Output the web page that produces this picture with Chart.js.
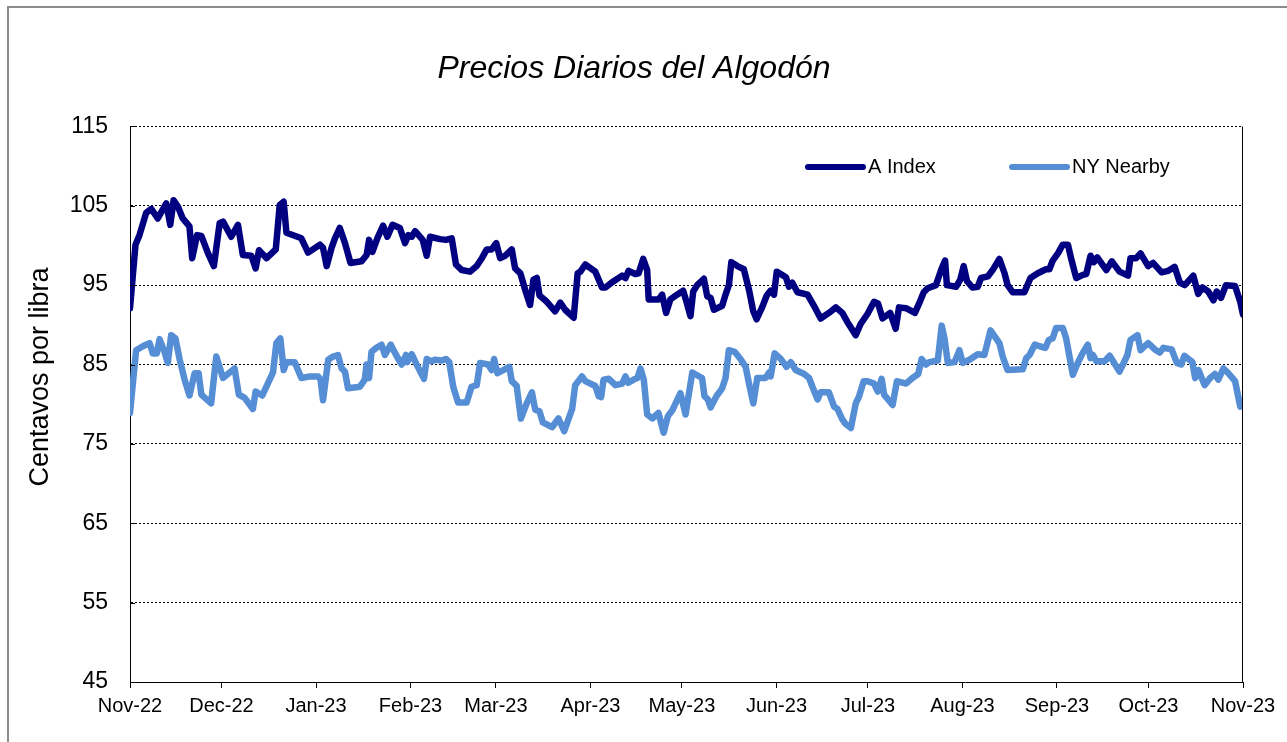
<!DOCTYPE html>
<html lang="es">
<head>
<meta charset="utf-8">
<title>Precios Diarios del Algodón</title>
<script src="https://cdn.jsdelivr.net/npm/chart.js@4.4.1/dist/chart.umd.min.js"></script>
<style>
  html, body { margin: 0; padding: 0; background: #fff; }
  #wrap { position: relative; width: 1287px; height: 742px; overflow: hidden; }
  #marco { position: absolute; left: 7px; top: 6px; width: 1320px; height: 780px;
           border-left: 2px solid #8c8c8c; border-top: 2px solid #8c8c8c; }
  #grafica { position: absolute; left: 0; top: 0; }
</style>
</head>
<body>
<div id="wrap">
  <div id="marco"></div>
  <canvas id="grafica" width="1287" height="742"></canvas>
</div>
<script>
'use strict';

// Eje X: días transcurridos desde el 1-nov-2022
const DIAS_MES   = [0, 30, 61, 92, 120, 151, 181, 212, 242, 273, 304, 334, 365];
const ETIQ_MES   = ['Nov-22', 'Dec-22', 'Jan-23', 'Feb-23', 'Mar-23', 'Apr-23', 'May-23',
                    'Jun-23', 'Jul-23', 'Aug-23', 'Sep-23', 'Oct-23', 'Nov-23'];
const TICKS_Y    = [45, 55, 65, 75, 85, 95, 105, 115];
const TITULO_Y   = 'Centavos por libra';

// A Index (centavos por libra)
const A_DIAS = [
  0, 1.8, 3.1, 5.3, 7, 9.1, 11.9, 13.2, 14.3, 15.7, 17.3, 19.5, 20.4, 22, 23.4, 25.6, 27.5,
  29.4, 30.5, 33.2, 35.4, 37, 39.8, 41.2, 42.3, 44.8, 47.8, 49.1, 50.4, 51.3, 56.2, 58.4,
  62.3, 63.3, 64.5, 66.1, 67.2, 68.8, 70.5, 72.3, 75.9, 77.6, 78.4, 79.5, 81.1, 83, 84.4,
  86.1, 88.5, 90.2, 91.3, 92.4, 93.5, 96, 97.3, 98.4, 101.7, 103.6, 105.5, 106.9, 108.8,
  111.5, 113.7, 115.4, 117, 118.6, 120.1, 121.4, 123, 125.2, 126.3, 128, 129.6, 131.2,
  132.3, 133.4, 134.3, 136.7, 139.4, 141.1, 142.7, 145.5, 146.8, 147.7, 149.3, 152.6,
  154.8, 155.9, 158.6, 161.4, 162.5, 163.5, 165.7, 166.8, 168.3, 169.6, 170.1, 173.4,
  174.5, 175.8, 177.2, 179.4, 181.4, 182.5, 183.8, 184.7, 186, 188.2, 189.3, 190.4, 191.5,
  194.2, 195.3, 196.4, 197.2, 199.2, 201.3, 203, 204.4, 205.5, 207.4, 208.8, 210.1, 211.2,
  212.1, 215.1, 216.1, 217.2, 218.9, 222.2, 224.3, 226.5, 229.2, 231.5, 233.6, 235.2, 238,
  239.6, 241.9, 244, 245.3, 246.8, 249.3, 251.1, 252.2, 254.5, 257.4, 258.8, 260.3, 261.6,
  264.3, 266, 267.3, 267.9, 270.9, 272.3, 273.4, 274.5, 276.3, 278, 279.1, 281.3, 282.9,
  285.1, 286.8, 287.8, 289.5, 293.3, 295.3, 297.7, 300.4, 301.5, 302.6, 304.3, 305.9,
  307.6, 308.6, 310.3, 312.5, 313.6, 315, 316.1, 317.2, 320.2, 322, 324.5, 327.3, 328.1,
  330, 331.4, 333.9, 335.5, 338.3, 340.5, 342.6, 344.3, 345.9, 348.7, 350.3, 351.7, 353.6,
  355.3, 356.4, 357.8, 359.4, 362.4, 364.1, 365
];
const A_VALORES = [
  92.1, 100.1, 101.3, 104.1, 104.6, 103.4, 105.3, 102.6, 105.7, 104.9, 103.4, 102.4, 98.4,
  101.3, 101.2, 99.0, 97.4, 102.8, 103.0, 101.1, 102.6, 98.8, 98.7, 97.1, 99.4, 98.4, 99.5,
  105.1, 105.5, 101.6, 100.9, 99.1, 100.1, 99.7, 97.4, 99.7, 100.9, 102.2, 100.3, 97.8,
  98.0, 98.8, 100.7, 99.2, 100.9, 102.5, 101.1, 102.6, 102.2, 100.3, 101.3, 101.1, 101.8,
  100.7, 98.7, 101.1, 100.8, 100.7, 100.9, 97.6, 96.9, 96.7, 97.4, 98.4, 99.5, 99.5, 100.3,
  98.4, 98.7, 99.5, 97.1, 96.5, 94.4, 92.5, 95.7, 95.9, 93.7, 92.9, 91.7, 92.8, 91.9, 90.9,
  96.5, 96.7, 97.6, 96.7, 94.7, 94.7, 95.5, 96.2, 95.9, 96.8, 96.4, 96.5, 98.3, 96.9, 93.2,
  93.2, 93.8, 91.5, 93.2, 93.8, 94.3, 92.9, 91.1, 94.2, 95.0, 95.8, 93.6, 93.4, 91.9, 92.4,
  93.8, 95.0, 97.9, 97.4, 97.0, 94.4, 91.7, 90.7, 92.3, 93.7, 94.3, 93.8, 96.7, 96.0, 94.8,
  95.3, 94.1, 93.8, 92.4, 90.8, 91.5, 92.2, 91.5, 90.4, 88.7, 90.1, 91.4, 92.9, 92.7, 90.8,
  91.5, 89.5, 92.2, 92.1, 91.5, 92.7, 94.1, 94.6, 95.0, 96.9, 98.1, 95.0, 94.8, 95.7, 97.4,
  95.5, 94.7, 94.8, 95.9, 96.1, 96.9, 98.3, 96.5, 95.0, 94.1, 94.1, 95.9, 96.5, 97.0, 97.0,
  98.1, 99.0, 100.1, 100.1, 98.4, 95.9, 96.3, 96.4, 98.7, 97.9, 98.5, 96.9, 98.0, 96.7,
  96.2, 98.4, 98.4, 99.0, 97.4, 97.8, 96.6, 96.8, 97.3, 95.3, 95.0, 96.2, 93.9, 94.7, 94.2,
  93.1, 94.2, 93.4, 95.0, 94.9, 92.9, 91.3
];

// NY Nearby (centavos por libra)
const NY_DIAS = [
  0, 2, 4.2, 6.4, 7.5, 8.8, 9.7, 11.3, 12.4, 13.5, 14.9, 16.3, 17.9, 19.5, 21.2, 22.5, 23.4,
  26.6, 28.3, 30.5, 34.3, 35.7, 37.6, 40.3, 41.2, 43.4, 46.9, 48, 49.3, 50.4, 51.3, 54,
  56.2, 59, 61.7, 62.5, 63.3, 65, 66.6, 68.2, 69.4, 70.5, 71.5, 75.4, 77, 77.6, 78.4, 79.2,
  80.8, 82.5, 83.6, 85.5, 87.4, 89.1, 90.5, 90.9, 92.4, 94, 96.4, 97.3, 98.9, 100, 102.2,
  103.6, 104.7, 106, 107.6, 110.4, 112, 113.7, 114.8, 117.5, 118.6, 119.4, 120.5, 122.4,
  124.4, 125.2, 126.8, 128.2, 130.1, 131.8, 132.9, 134.3, 135.4, 138.4, 140.5, 142.4, 145,
  146, 148.2, 149.3, 152.6, 153.7, 154.5, 155.3, 157, 159.2, 161.4, 162.5, 163.4, 165.2,
  166.4, 167.4, 168.5, 169.6, 171.3, 173.3, 175, 176.4, 177.8, 180.5, 182.2, 184.4, 187.6,
  188.4, 189.5, 190.4, 192.3, 194.2, 195.3, 196.4, 198.3, 200.2, 201.9, 203, 204.4, 205.7,
  208.4, 209.6, 210.1, 211.4, 213.4, 215.3, 216.7, 218.3, 221.1, 222.7, 223.8, 225.5,
  226.5, 229.2, 230.9, 232, 233.6, 234.7, 236.4, 238, 239.1, 240.6, 241.9, 244, 245.2,
  246.5, 247.3, 250.1, 251.5, 254.5, 256.6, 258.5, 259.6, 261, 262.1, 264.9, 266.2, 267.1,
  268.2, 270.4, 272, 273.1, 275.3, 278, 280.2, 282.2, 285.1, 286.2, 287.8, 292.8, 293.9,
  295, 296.7, 298.3, 300.2, 301.3, 302.6, 303.7, 305.9, 307, 308.1, 309.2, 310.8, 312.5,
  314.1, 315, 315.8, 316.9, 319.6, 321.3, 324.5, 327.1, 328.1, 330.4, 331.4, 333.9, 336.1,
  337.7, 338.9, 341.6, 343.3, 344.7, 345.8, 348.4, 349.3, 350.4, 352.4, 354.2, 355.8,
  356.9, 358.6, 360.2, 362.4, 364.1, 365
];
const NY_VALORES = [
  78.9, 86.8, 87.3, 87.7, 86.4, 86.4, 88.2, 86.6, 85.2, 88.7, 88.3, 85.6, 83.1, 81.1, 83.9,
  83.9, 81.2, 80.1, 86.0, 83.3, 84.5, 81.2, 80.8, 79.4, 81.6, 81.1, 84.0, 87.7, 88.3, 84.3,
  85.3, 85.3, 83.3, 83.5, 83.5, 83.1, 80.5, 85.6, 86.0, 86.2, 84.5, 84.1, 82.0, 82.2, 83.1,
  85.0, 83.3, 86.6, 87.1, 87.5, 86.2, 87.5, 86.1, 85.0, 86.2, 85.3, 86.3, 85.0, 83.2, 85.7,
  85.4, 85.6, 85.5, 85.7, 85.3, 82.2, 80.2, 80.2, 82.2, 82.4, 85.2, 85.0, 84.3, 85.7, 83.9,
  84.3, 84.7, 82.9, 82.3, 78.2, 80.1, 81.5, 79.3, 79.1, 77.7, 77.1, 78.2, 76.6, 79.4, 82.4,
  83.5, 82.9, 82.3, 81.0, 80.9, 83.1, 83.2, 82.4, 82.6, 83.5, 82.7, 83.1, 83.3, 84.5, 83.1,
  78.7, 78.2, 78.9, 76.4, 78.5, 79.2, 81.4, 78.7, 84.0, 83.3, 81.0, 80.6, 79.6, 81.0, 82.0,
  83.3, 86.8, 86.6, 85.7, 84.7, 82.6, 80.1, 83.3, 83.3, 84.0, 83.5, 86.4, 85.7, 84.7, 85.3,
  84.3, 83.8, 83.3, 82.2, 80.6, 81.5, 81.5, 79.7, 79.4, 78.1, 77.5, 77.0, 80.1, 81.0, 82.9,
  82.9, 82.6, 81.6, 83.2, 81.2, 79.9, 82.9, 82.6, 83.3, 83.8, 85.7, 85.0, 85.3, 85.5, 89.9,
  88.3, 85.2, 85.3, 86.8, 85.2, 85.6, 86.3, 86.2, 89.3, 87.7, 86.0, 84.3, 84.4, 85.8, 86.2,
  87.5, 87.3, 87.1, 88.1, 88.3, 89.6, 89.6, 88.3, 86.0, 83.7, 85.2, 86.5, 87.5, 85.8, 86.2,
  85.4, 85.4, 86.1, 84.1, 86.2, 88.1, 88.7, 86.8, 87.7, 86.9, 86.5, 87.1, 86.9, 85.2, 85.0,
  86.1, 85.3, 83.3, 84.3, 82.4, 83.3, 83.8, 83.1, 84.5, 83.9, 82.9, 79.7, 79.9
];

const FUENTE = "'Liberation Sans', Arial, sans-serif";

function puntos(dias, valores) {
  return dias.map((d, i) => ({ x: d, y: valores[i] }));
}

// título del eje Y, leyenda dentro del área de trazado, borde derecho y marcas interiores
const extrasPlugin = {
  id: 'extras',
  afterDraw(chart) {
    const { ctx, chartArea: a, scales } = chart;
    ctx.save();
    ctx.strokeStyle = '#000';
    ctx.lineWidth = 1;
    ctx.beginPath();
    ctx.moveTo(Math.round(a.right) - 0.5, a.top);
    ctx.lineTo(Math.round(a.right) - 0.5, a.bottom);
    TICKS_Y.forEach(v => {
      const py = Math.round(scales.y.getPixelForValue(v)) + 0.5;
      ctx.moveTo(a.left, py);
      ctx.lineTo(a.left + 5, py);
    });
    ctx.stroke();

    // título vertical
    ctx.save();
    ctx.translate(41, 377);
    ctx.rotate(-Math.PI / 2);
    ctx.fillStyle = '#000';
    ctx.font = '27px ' + FUENTE;
    ctx.textAlign = 'center';
    ctx.textBaseline = 'middle';
    ctx.fillText(TITULO_Y, 0, 0);
    ctx.restore();

    const pos = [{ x: 808, y: 167 }, { x: 1012, y: 167 }];
    chart.data.datasets.forEach((ds, i) => {
      const p = pos[i];
      ctx.strokeStyle = ds.borderColor;
      ctx.lineWidth = 6;
      ctx.lineCap = 'round';
      ctx.beginPath();
      ctx.moveTo(p.x, p.y);
      ctx.lineTo(p.x + 55, p.y);
      ctx.stroke();
      ctx.fillStyle = '#000';
      ctx.font = '20px ' + FUENTE;
      ctx.textBaseline = 'middle';
      ctx.textAlign = 'left';
      ctx.fillText(ds.label, p.x + 60, p.y);
    });
    ctx.restore();
  }
};

new Chart(document.getElementById('grafica'), {
  type: 'line',
  data: {
    datasets: [
      {
        label: 'A Index',
        data: puntos(A_DIAS, A_VALORES),
        borderColor: '#000080',
        borderWidth: 6.5,
        pointRadius: 0,
        tension: 0,
        borderJoinStyle: 'round',
        borderCapStyle: 'round'
      },
      {
        label: 'NY Nearby',
        data: puntos(NY_DIAS, NY_VALORES),
        borderColor: '#558ed5',
        borderWidth: 6.5,
        pointRadius: 0,
        tension: 0,
        borderJoinStyle: 'round',
        borderCapStyle: 'round'
      }
    ]
  },
  options: {
    responsive: false,
    animation: false,
    devicePixelRatio: 1,
    layout: { padding: { top: 50, right: 44, bottom: 0, left: 25 } },
    plugins: {
      legend: { display: false },
      tooltip: { enabled: false },
      title: {
        display: true,
        text: 'Precios Diarios del Algodón',
        color: '#000',
        font: { family: FUENTE, size: 32, style: 'italic', weight: 'normal' },
        padding: { top: 0, bottom: 38 }
      }
    },
    scales: {
      x: {
        type: 'linear',
        min: 0,
        max: 365,
        afterBuildTicks: s => { s.ticks = DIAS_MES.map(v => ({ value: v })); },
        afterFit: s => { s.height = 60; },
        grid: { drawOnChartArea: false, drawTicks: true, tickLength: 6, color: '#000' },
        border: { display: true, color: '#000', width: 1 },
        ticks: {
          autoSkip: false,
          maxRotation: 0,
          padding: 6,
          color: '#000',
          font: { family: FUENTE, size: 20 },
          callback: v => ETIQ_MES[DIAS_MES.indexOf(v)]
        }
      },
      y: {
        min: 45,
        max: 115,
        afterBuildTicks: s => { s.ticks = TICKS_Y.map(v => ({ value: v })); },
        afterFit: s => { s.width = 105; },
        grid: { color: '#000', lineWidth: 1, drawTicks: false },
        border: { display: true, color: '#000', width: 1, dash: [2, 2] },
        ticks: {
          padding: 22,
          color: '#000',
          font: { family: FUENTE, size: 23 }
        }
      }
    }
  },
  plugins: [extrasPlugin]
});
</script>
</body>
</html>
